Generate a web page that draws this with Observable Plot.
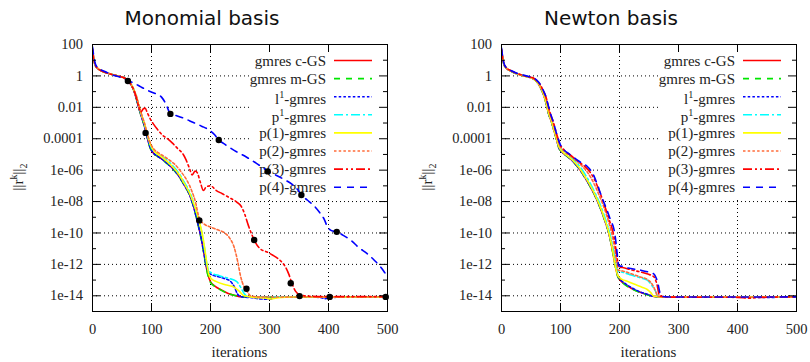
<!DOCTYPE html>
<html><head><meta charset="utf-8">
<script src="https://cdn.jsdelivr.net/npm/d3@7"></script>
<script src="https://cdn.jsdelivr.net/npm/@observablehq/plot@0.6"></script>
<style>
html,body{margin:0;padding:0;background:#fff;overflow:hidden}
#wrap{position:relative;width:810px;height:362px;background:#fff}
.panel{position:absolute;top:0}
</style></head><body><div id="wrap"></div>
<script>
// ---------- ticks / labels ----------
const xTicks = [0, 100, 200, 300, 400, 500];
const yTicks = [100, 1, 0.01, 0.0001, 1e-6, 1e-8, 1e-10, 1e-12, 1e-14];
const yTickLabels = ["100", "1", "0.01", "0.0001", "1e-06", "1e-08", "1e-10", "1e-12", "1e-14"];
const yMinor = [10, 0.1, 1e-3, 1e-5, 1e-7, 1e-9, 1e-11, 1e-13];
const panelTitles = ["Monomial basis", "Newton basis"];
const xLabel = "iterations";

// ---------- series ----------
const seriesNames = ["gmres c-GS", "gmres m-GS", "l^1-gmres", "p^1-gmres", "p(1)-gmres", "p(2)-gmres", "p(3)-gmres", "p(4)-gmres"];
const seriesColors = ["#ff0000", "#00e600", "#0000ff", "#00ffff", "#ffff00", "#ff6c3a", "#ff0000", "#0000ff"];
const seriesDash = [null, "6,6", "2.5,2.2", "9,3,2,3", null, "2.5,2.2", "9,3,2,3,2,3", "7,6"];

// Monomial basis: [iteration, log10 ||r||]
const monoCGS = [[0,1.7],[2,1.1],[4,0.75],[8,0.5],[15,0.33],[25,0.18],[40,0.02],[55,-0.15],[60,-0.3],[66,-0.6],[70,-0.92],[74,-1.4],[78,-1.95],[83,-2.6],[87,-3.05],[92,-3.8],[98,-4.6],[104,-4.95],[110,-5.1],[118,-5.3],[126,-5.55],[135,-5.85],[145,-6.3],[155,-6.9],[165,-7.6],[172,-8.4],[178,-9.3],[184,-10.3],[188,-11.1],[192,-12.0],[196,-12.7],[200,-13.1],[208,-13.4],[217,-13.6],[230,-13.85],[242,-13.98],[252,-14.06],[300,-14.08],[350,-14.07],[420,-14.08],[500,-14.08]];
const monoMGS = [[0,1.68],[2,1.1],[4,0.76],[8,0.5],[15,0.33],[25,0.18],[40,0.02],[55,-0.16],[60,-0.3],[66,-0.6],[70,-0.92],[74,-1.42],[78,-1.97],[83,-2.62],[87,-3.07],[92,-3.82],[98,-4.62],[104,-4.96],[110,-5.12],[118,-5.32],[126,-5.57],[135,-5.88],[145,-6.33],[155,-6.93],[165,-7.63],[172,-8.43],[178,-9.33],[184,-10.35],[188,-11.15],[192,-12.05],[196,-12.75],[200,-13.15],[208,-13.42],[217,-13.62],[230,-13.86],[242,-13.99],[252,-14.07],[300,-14.09],[360,-14.08],[430,-14.09],[500,-14.08]];
const monoL1 = [[0,1.72],[2,1.12],[4,0.76],[8,0.5],[15,0.33],[25,0.18],[40,0.02],[55,-0.15],[60,-0.3],[66,-0.6],[70,-0.92],[74,-1.4],[78,-1.95],[83,-2.6],[87,-3.05],[92,-3.8],[98,-4.58],[104,-4.94],[110,-5.1],[118,-5.3],[126,-5.55],[135,-5.86],[145,-6.3],[155,-6.92],[165,-7.62],[172,-8.42],[178,-9.32],[184,-10.3],[188,-11.1],[192,-11.95],[196,-12.45],[200,-12.62],[210,-12.75],[222,-12.88],[233,-13.05],[240,-13.4],[246,-13.9],[252,-14.06],[270,-14.12],[285,-14.2],[300,-14.22],[312,-14.1],[340,-14.08],[385,-14.1],[395,-14.18],[405,-14.1],[500,-14.08]];
const monoP1 = [[0,1.7],[2,1.1],[4,0.75],[8,0.5],[15,0.33],[25,0.18],[40,0.02],[55,-0.15],[60,-0.3],[66,-0.57],[70,-0.87],[75,-1.4],[79,-1.95],[84,-2.6],[88,-3.05],[93,-3.8],[99,-4.5],[106,-4.85],[112,-5.0],[120,-5.2],[128,-5.42],[136,-5.72],[146,-6.17],[156,-6.8],[166,-7.5],[173,-8.3],[180,-9.15],[186,-10.1],[190,-11.0],[194,-12.0],[197,-12.4],[202,-12.55],[215,-12.72],[230,-12.88],[244,-13.08],[251,-13.45],[257,-13.85],[262,-14.05],[280,-14.1],[300,-14.06],[500,-14.08]];
const monoPA1 = [[0,1.7],[2,1.1],[4,0.75],[8,0.5],[15,0.33],[25,0.18],[40,0.02],[55,-0.15],[60,-0.3],[66,-0.57],[70,-0.87],[75,-1.4],[79,-1.95],[84,-2.58],[88,-3.0],[93,-3.75],[99,-4.45],[106,-4.85],[112,-5.02],[120,-5.25],[128,-5.5],[136,-5.8],[146,-6.25],[156,-6.88],[165,-7.5],[174,-8.4],[181,-9.3],[186,-10.05],[191,-11.2],[194,-12.0],[197,-12.6],[201,-12.9],[210,-13.1],[225,-13.3],[240,-13.45],[249,-13.72],[257,-14.0],[275,-14.1],[292,-14.14],[303,-14.2],[315,-14.12],[340,-14.08],[500,-14.08]];
const monoPA2 = [[0,1.7],[2,1.1],[4,0.75],[8,0.5],[15,0.33],[25,0.18],[40,0.02],[55,-0.15],[60,-0.3],[66,-0.57],[70,-0.87],[75,-1.35],[79,-1.9],[84,-2.55],[88,-3.0],[93,-3.7],[99,-4.35],[105,-4.7],[112,-4.9],[120,-5.1],[130,-5.35],[140,-5.65],[150,-6.1],[160,-6.65],[168,-7.3],[175,-8.1],[179,-8.8],[182,-9.15],[188,-9.4],[200,-9.62],[212,-9.8],[223,-9.97],[232,-10.3],[240,-10.9],[246,-11.8],[251,-12.75],[256,-13.35],[261,-13.65],[268,-14.0],[285,-14.08],[500,-14.08]];
const monoPA3 = [[0,1.7],[2,1.1],[4,0.75],[8,0.5],[15,0.33],[25,0.18],[40,0.02],[55,-0.15],[60,-0.3],[66,-0.6],[70,-0.9],[74,-1.35],[78,-1.9],[82,-2.3],[86,-2.1],[89,-2.05],[93,-2.35],[98,-2.75],[104,-3.1],[110,-3.4],[118,-3.75],[127,-4.0],[136,-4.3],[145,-4.65],[153,-4.95],[158,-5.3],[164,-5.85],[169,-6.3],[174,-6.05],[178,-6.2],[183,-6.8],[188,-7.3],[193,-7.05],[200,-7.0],[210,-7.3],[220,-7.5],[232,-7.75],[245,-8.05],[252,-8.3],[258,-8.8],[264,-9.5],[270,-10.1],[276,-10.6],[284,-11.0],[295,-11.2],[305,-11.4],[318,-11.75],[326,-12.1],[333,-12.65],[338,-13.2],[344,-13.7],[352,-13.95],[365,-14.02],[390,-14.05],[500,-14.05]];
const monoPA4 = [[0,1.85],[2,1.3],[5,0.75],[10,0.5],[20,0.3],[35,0.05],[50,-0.12],[60,-0.3],[70,-0.45],[82,-0.7],[95,-0.95],[108,-1.15],[117,-1.35],[124,-1.75],[132,-2.4],[140,-2.5],[155,-2.7],[170,-2.95],[185,-3.2],[198,-3.45],[207,-3.75],[214,-4.08],[222,-4.3],[232,-4.55],[245,-4.85],[260,-5.15],[275,-5.5],[289,-5.85],[297,-6.08],[310,-6.3],[325,-6.6],[340,-6.95],[348,-7.25],[354,-7.58],[364,-7.9],[375,-8.25],[385,-8.7],[393,-9.15],[398,-9.6],[405,-9.85],[414,-9.93],[425,-10.15],[438,-10.47],[452,-10.95],[465,-11.3],[478,-11.75],[488,-12.15],[494,-12.45],[500,-12.8]];
const monoDots = [[60,-0.32],[90,-3.63],[132,-2.42],[181,-9.2],[214,-4.08],[261,-13.55],[274,-10.45],[297,-6.08],[336,-13.2],[351,-14.02],[354,-7.58],[402,-14.07],[414,-9.93],[497,-14.07]];

// Newton basis: [iteration, log10 ||r||]
const newtCGS = [[0,1.62],[2,1.1],[4,0.74],[8,0.5],[15,0.32],[25,0.15],[35,0.03],[45,-0.07],[52,-0.15],[58,-0.3],[63,-0.53],[68,-0.9],[72,-1.27],[76,-1.8],[80,-2.43],[85,-2.95],[89,-3.49],[93,-4.0],[97,-4.55],[103,-4.86],[110,-5.08],[117,-5.29],[125,-5.6],[134,-6.03],[142,-6.5],[151,-7.08],[160,-7.75],[168,-8.46],[176,-9.3],[182,-10.04],[187,-10.9],[191,-11.73],[194,-12.3],[197,-12.75],[200,-12.95],[205,-13.15],[219,-13.5],[235,-13.78],[247,-13.92],[258,-14.04],[300,-14.08],[360,-14.07],[430,-14.08],[500,-14.07]];
const newtMGS = [[0,1.63],[2,1.1],[4,0.75],[8,0.5],[15,0.32],[25,0.15],[35,0.03],[45,-0.07],[52,-0.15],[58,-0.3],[63,-0.54],[68,-0.91],[72,-1.28],[76,-1.81],[80,-2.44],[85,-2.96],[89,-3.5],[93,-4.01],[97,-4.56],[103,-4.87],[110,-5.09],[117,-5.3],[125,-5.61],[134,-6.04],[142,-6.51],[151,-7.09],[160,-7.76],[168,-8.47],[176,-9.31],[182,-10.05],[187,-10.92],[191,-11.75],[194,-12.32],[197,-12.77],[200,-12.97],[205,-13.17],[219,-13.52],[235,-13.79],[247,-13.93],[258,-14.05],[300,-14.09],[370,-14.08],[440,-14.09],[500,-14.07]];
const newtL1 = [[0,1.66],[2,1.12],[4,0.76],[8,0.5],[15,0.32],[25,0.15],[35,0.03],[45,-0.07],[52,-0.15],[58,-0.3],[63,-0.53],[68,-0.9],[72,-1.27],[76,-1.8],[80,-2.43],[85,-2.95],[89,-3.49],[93,-4.0],[97,-4.55],[103,-4.86],[110,-5.08],[117,-5.29],[125,-5.6],[134,-6.03],[142,-6.5],[151,-7.08],[160,-7.75],[168,-8.46],[176,-9.3],[182,-10.04],[187,-10.85],[191,-11.6],[194,-12.2],[197,-12.7],[201,-12.95],[206,-13.12],[219,-13.45],[235,-13.75],[247,-13.9],[258,-14.04],[300,-14.09],[380,-14.08],[450,-14.1],[500,-14.08]];
const newtP1 = [[0,1.65],[2,1.12],[4,0.76],[8,0.5],[15,0.33],[25,0.16],[35,0.04],[45,-0.06],[52,-0.14],[59,-0.3],[64,-0.53],[69,-0.9],[73,-1.27],[77,-1.8],[81,-2.43],[86,-2.95],[90,-3.49],[94,-4.0],[98,-4.5],[104,-4.78],[111,-5.0],[118,-5.2],[126,-5.48],[135,-5.88],[143,-6.35],[152,-6.95],[161,-7.65],[169,-8.35],[177,-9.2],[183,-9.95],[188,-10.8],[192,-11.6],[195,-12.2],[198,-12.45],[205,-12.5],[220,-12.68],[235,-12.85],[247,-13.0],[255,-13.35],[261,-13.7],[265,-14.03],[280,-14.08],[500,-14.07]];
const newtPA1 = [[0,1.64],[2,1.11],[4,0.75],[8,0.5],[15,0.32],[25,0.15],[35,0.03],[45,-0.07],[52,-0.15],[58,-0.3],[63,-0.52],[68,-0.88],[72,-1.25],[76,-1.78],[80,-2.4],[85,-2.93],[89,-3.47],[93,-3.98],[97,-4.5],[103,-4.82],[110,-5.05],[117,-5.25],[125,-5.55],[134,-5.97],[142,-6.45],[151,-7.02],[160,-7.7],[168,-8.4],[176,-9.25],[182,-10.0],[187,-10.85],[191,-11.7],[194,-12.3],[197,-12.7],[202,-12.9],[215,-13.1],[228,-13.3],[238,-13.45],[247,-13.6],[253,-13.8],[258,-14.02],[280,-14.08],[500,-14.07]];
const newtPA2 = [[0,1.68],[2,1.15],[4,0.78],[8,0.51],[15,0.34],[25,0.17],[35,0.05],[45,-0.05],[53,-0.13],[59,-0.3],[64,-0.51],[69,-0.87],[74,-1.28],[78,-1.82],[82,-2.42],[87,-2.95],[91,-3.5],[95,-4.02],[99,-4.45],[104,-4.7],[110,-4.92],[118,-5.12],[126,-5.38],[135,-5.68],[144,-6.05],[151,-6.45],[158,-6.95],[165,-7.55],[172,-8.2],[178,-8.85],[184,-9.6],[189,-10.4],[193,-11.3],[196,-12.0],[198,-12.38],[205,-12.42],[220,-12.6],[235,-12.8],[248,-12.98],[256,-13.3],[261,-13.7],[265,-14.03],[280,-14.08],[500,-14.07]];
const newtPA3 = [[0,1.7],[2,1.17],[4,0.79],[8,0.52],[15,0.35],[25,0.17],[35,0.05],[45,-0.05],[53,-0.12],[60,-0.3],[65,-0.52],[70,-0.88],[75,-1.3],[79,-1.85],[83,-2.42],[88,-2.95],[92,-3.5],[96,-4.0],[100,-4.42],[104,-4.62],[110,-4.85],[117,-5.05],[125,-5.3],[134,-5.55],[143,-5.82],[150,-6.12],[157,-6.55],[164,-7.15],[171,-7.85],[177,-8.5],[183,-9.2],[189,-9.95],[193,-10.8],[196,-11.6],[199,-12.18],[205,-12.2],[220,-12.35],[235,-12.48],[248,-12.62],[258,-12.78],[263,-13.2],[268,-14.0],[280,-14.08],[400,-14.1],[420,-14.15],[440,-14.1],[500,-14.07]];
const newtPA4 = [[0,1.78],[2,1.22],[4,0.82],[8,0.53],[15,0.36],[25,0.19],[35,0.07],[45,-0.03],[53,-0.11],[60,-0.28],[65,-0.5],[70,-0.85],[75,-1.3],[79,-1.85],[83,-2.4],[88,-2.95],[92,-3.5],[96,-4.0],[100,-4.4],[103,-4.6],[107,-4.75],[114,-4.95],[121,-5.15],[128,-5.35],[136,-5.55],[145,-5.75],[151,-6.0],[157,-6.4],[162,-6.87],[168,-7.5],[174,-8.1],[179,-8.56],[185,-9.2],[191,-9.83],[194,-10.6],[196,-11.3],[199,-12.1],[205,-12.12],[213,-12.22],[236,-12.37],[250,-12.5],[258,-12.6],[264,-13.05],[270,-13.95],[276,-14.06],[300,-14.08],[500,-14.07]];
const newtDots = [];

const monoSeries = [monoCGS, monoMGS, monoL1, monoP1, monoPA1, monoPA2, monoPA3, monoPA4];
const newtSeries = [newtCGS, newtMGS, newtL1, newtP1, newtPA1, newtPA2, newtPA3, newtPA4];

// ---------- drawing ----------
const SERIF = "'Liberation Serif','Times New Roman',serif";
const SANS = "'DejaVu Sans',sans-serif";
const W = 401, H = 362, mL = 92, mR = 14, mT = 44, mB = 51;
const FW = W - mL - mR, FH = H - mT - mB;

function addLabel(textSel, label, size) {
  const m = label.match(/^(.*?)\^(\w)(.*)$/);
  if (!m) { textSel.text(label); return; }
  textSel.append("tspan").text(m[1]);
  textSel.append("tspan").attr("dy", -6).attr("font-size", size * 0.68).text(m[2]);
  textSel.append("tspan").attr("dy", 6).attr("font-size", size).text(m[3]);
}

function legendMark() {
  return (index, scales, values, dims) => {
    const g = d3.create("svg:g");
    const right = dims.width - dims.marginRight;
    const top = dims.marginTop;
    g.append("rect").attr("x", right - 137).attr("y", top + 1).attr("width", 136).attr("height", 153).attr("fill", "white");
    seriesNames.forEach((name, i) => {
      const y = top + 16.5 + i * 18.1;
      const sup = name.includes("^");
      const t = g.append("text").attr("x", right - 61).attr("y", y + (sup ? 2 : 0)).attr("dy", "0.35em")
        .attr("text-anchor", "end").attr("font-size", 15).attr("font-family", SERIF).attr("fill", "#222");
      addLabel(t, name, 15);
      g.append("line").attr("x1", right - 53).attr("x2", right - 15).attr("y1", y).attr("y2", y)
        .attr("stroke", seriesColors[i]).attr("stroke-width", 1.6)
        .attr("stroke-dasharray", seriesDash[i]);
    });
    return g.node();
  };
}

function textMark(title) {
  return (index, scales, values, dims) => {
    const g = d3.create("svg:g");
    g.append("text").attr("x", 202).attr("y", 25).attr("text-anchor", "middle")
      .attr("font-family", SANS).attr("font-size", 20).attr("fill", "#111").text(title);
    const cx = dims.marginLeft + (dims.width - dims.marginLeft - dims.marginRight) / 2;
    g.append("text").attr("x", cx).attr("y", 357).attr("text-anchor", "middle")
      .attr("font-family", SERIF).attr("font-size", 15).attr("fill", "#222").text(xLabel);
    const yl = g.append("text").attr("transform", "translate(23,177) rotate(-90)").attr("text-anchor", "middle")
      .attr("font-family", SERIF).attr("font-size", 15).attr("fill", "#222");
    yl.append("tspan").text("||r");
    yl.append("tspan").attr("dy", -6).attr("font-size", 10).text("k");
    yl.append("tspan").attr("dy", 6).attr("font-size", 15).text("||");
    yl.append("tspan").attr("dy", 4).attr("font-size", 10).text("2");
    return g.node();
  };
}

function panel(title, series, dots) {
  const lines = series.map((s, i) => Plot.line(s, {
    x: d => d[0], y: d => Math.pow(10, d[1]), stroke: seriesColors[i],
    strokeDasharray: seriesDash[i] || undefined, strokeWidth: 1.6, curve: "monotone-x", clip: true
  }));
  return Plot.plot({
    width: W, height: H, marginLeft: mL, marginRight: mR, marginTop: mT, marginBottom: mB,
    x: {domain: [0, 500]},
    y: {type: "log", domain: [1e-15, 100]},
    style: {fontFamily: SERIF, fontSize: "14.5px", background: "transparent", color: "#222", overflow: "visible"},
    marks: [
      Plot.ruleY(yTicks, {y: d => d, stroke: "#000", strokeDasharray: "1,3", strokeWidth: 1}),
      Plot.ruleX(xTicks.slice(1, -1), {x: d => d, stroke: "#000", strokeDasharray: "1,3", strokeWidth: 1}),
      legendMark(),
      ...lines,
      Plot.dot(dots, {x: d => d[0], y: d => Math.pow(10, d[1]), r: 3.2, fill: "#000"}),
      Plot.tickY(yTicks, {y: d => d, insetRight: FW - 8, stroke: "#000"}),
      Plot.tickY(yTicks, {y: d => d, insetLeft: FW - 8, stroke: "#000"}),
      Plot.tickY(yMinor, {y: d => d, insetRight: FW - 4, stroke: "#000"}),
      Plot.tickY(yMinor, {y: d => d, insetLeft: FW - 4, stroke: "#000"}),
      Plot.tickX(xTicks, {x: d => d, insetTop: FH - 8, stroke: "#000"}),
      Plot.tickX(xTicks, {x: d => d, insetBottom: FH - 8, stroke: "#000"}),
      Plot.frame({stroke: "#000", strokeWidth: 1}),
      Plot.axisY(yTicks, {tickSize: 0, tickPadding: 9.5, label: null, fill: "#222",
        tickFormat: d => yTickLabels[yTicks.indexOf(d)]}),
      Plot.axisX(xTicks, {tickSize: 0, tickPadding: 12, label: null, fill: "#222", tickFormat: d => String(d)}),
      textMark(title)
    ]
  });
}

const wrap = document.getElementById("wrap");
[[panelTitles[0], monoSeries, monoDots, 0], [panelTitles[1], newtSeries, newtDots, 409]].forEach(([t, s, d, left]) => {
  const div = document.createElement("div");
  div.className = "panel";
  div.style.left = left + "px";
  div.appendChild(panel(t, s, d));
  wrap.appendChild(div);
});
</script></body></html>
